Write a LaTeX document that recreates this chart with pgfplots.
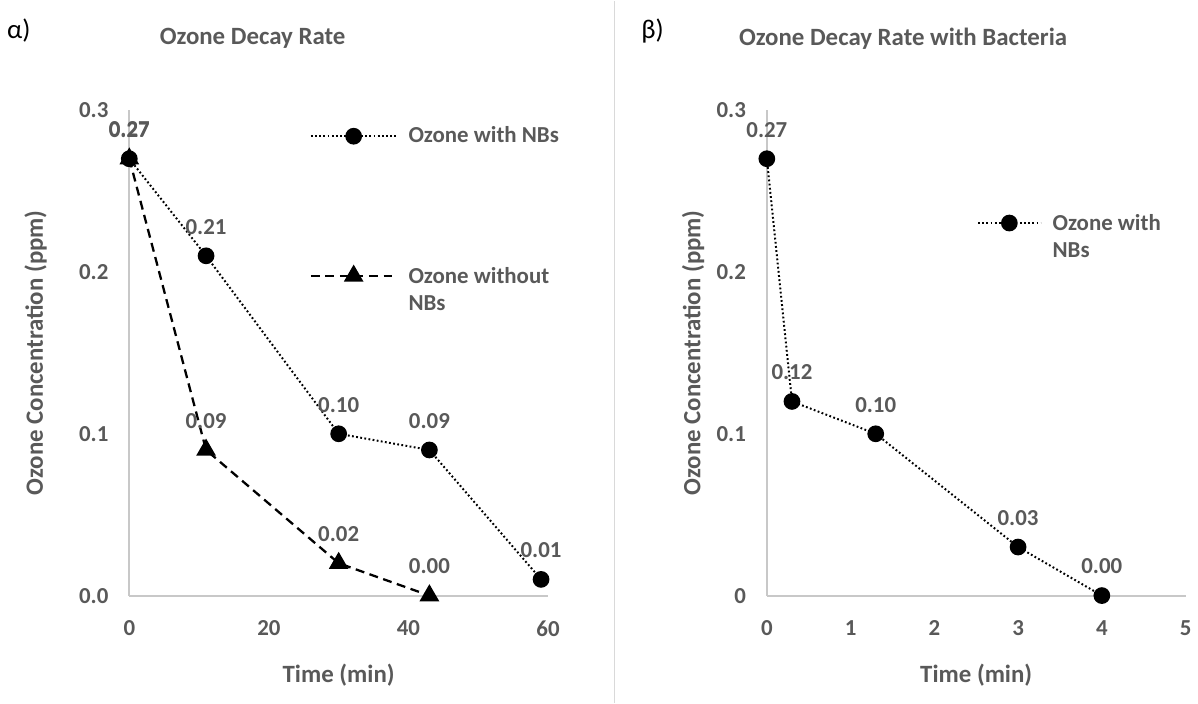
\documentclass[border=0pt]{standalone}
\usepackage{fontspec}
\setmainfont{Carlito}
\usepackage{pgfplots}
\pgfplotsset{compat=1.18}

\definecolor{txt}{HTML}{595959}
\definecolor{axl}{HTML}{C8C8C8}
\definecolor{sepc}{HTML}{D9D9D9}

\newcommand{\tickfont}{\fontsize{11.5}{13.5}\selectfont\bfseries}
\newcommand{\labfont}{\fontsize{12.5}{15}\selectfont\bfseries}

\pgfplotsset{
  ozone/.style={
    scale only axis, width=210.5pt, height=244pt,
    anchor=south west,
    axis lines=left, axis line style={draw=axl, line width=1pt, -},
    major tick length=0pt,
    xmin=0, ymin=0, ymax=0.3, ytick={0,0.1,0.2,0.3},
    /pgf/number format/assume math mode=true,
    tick label style={font=\tickfont, text=txt},
    xticklabel style={yshift=-9pt},
    yticklabel style={xshift=-7pt},
    label style={font=\labfont, text=txt},
    xlabel={Time (min)}, ylabel={Ozone Concentration (ppm)},
    xlabel style={at={(axis description cs:0.5,-0.164)}, anchor=center},
    nodes near coords={\pgfmathprintnumber[fixed,fixed zerofill,precision=2]{\pgfplotspointmeta}},
    nodes near coords style={font=\tickfont, text=txt, yshift=7pt},
    legend style={draw=none, fill=none, font=\tickfont, text=txt, inner sep=0pt, column sep=3.5pt},
    legend cell align=left,
    legend image code/.code={\draw[mark repeat=2,mark phase=2,#1] plot coordinates {(0pt,0pt) (21.5pt,0pt) (43pt,0pt)};},
    clip=false,
  },
  dotline/.style={black, line width=1pt, dash pattern=on 0.9pt off 1.2pt,
    mark=*, mark size=3.7pt, mark options={solid, fill=black}},
  dashline/.style={black, line width=1.15pt, dash pattern=on 4.5pt off 2.8pt,
    mark=triangle*, mark size=4.6pt, mark options={solid, fill=black}},
}

\begin{document}
\begin{tikzpicture}
\path (0pt,0pt) rectangle (599pt,353pt);
\draw[sepc, line width=0.8pt] (309pt,0pt) -- (309pt,353pt);

\node[font=\fontsize{13.5}{15}\selectfont] at (9.5pt,338pt) {α)};
\node[font=\fontsize{13.5}{15}\selectfont] at (328pt,338pt) {β)};
\node[font=\labfont, text=txt] at (127pt,334pt) {Ozone Decay Rate};
\node[font=\labfont, text=txt] at (454pt,334pt) {Ozone Decay Rate with Bacteria};

% a) ozone decay with and without nanobubbles
\begin{axis}[ozone, at={(65pt,54pt)},
  xmax=60, xtick={0,20,40,60},
  y tick label style={/pgf/number format/fixed, /pgf/number format/fixed zerofill, /pgf/number format/precision=1},
  ylabel style={at={(axis description cs:-0.224,0.5)}, anchor=center},
  legend style={at={(axis description cs:0.43,0.975)}, anchor=north west, row sep=56pt}]
\addplot[dotline] coordinates {(0,0.27) (11,0.21) (30,0.10) (43,0.09) (59,0.01)};
\addlegendentry{Ozone with NBs}
\addplot[dashline] coordinates {(0,0.27) (11,0.09) (30,0.02) (43,0.00)};
\addlegendentry{\begin{tabular}[t]{@{}l@{}}Ozone without\\NBs\end{tabular}}
\end{axis}

% b) with bacteria
\begin{axis}[ozone, at={(385.5pt,54pt)},
  xmax=5, xtick={0,1,2,3,4,5},
  y tick label style={/pgf/number format/fixed, /pgf/number format/precision=1},
  ylabel style={at={(axis description cs:-0.176,0.5)}, anchor=center},
  legend image code/.code={\draw[mark repeat=2,mark phase=2,#1] plot coordinates {(0pt,0pt) (15.75pt,0pt) (31.5pt,0pt)};},
  legend style={at={(axis description cs:0.501,0.799)}, anchor=north west}]
\addplot[dotline] coordinates {(0,0.27) (0.3,0.12) (1.3,0.10) (3,0.03) (4,0.00)};
\addlegendentry{\begin{tabular}[t]{@{}l@{}}Ozone with\\NBs\end{tabular}}
\end{axis}
\end{tikzpicture}
\end{document}
